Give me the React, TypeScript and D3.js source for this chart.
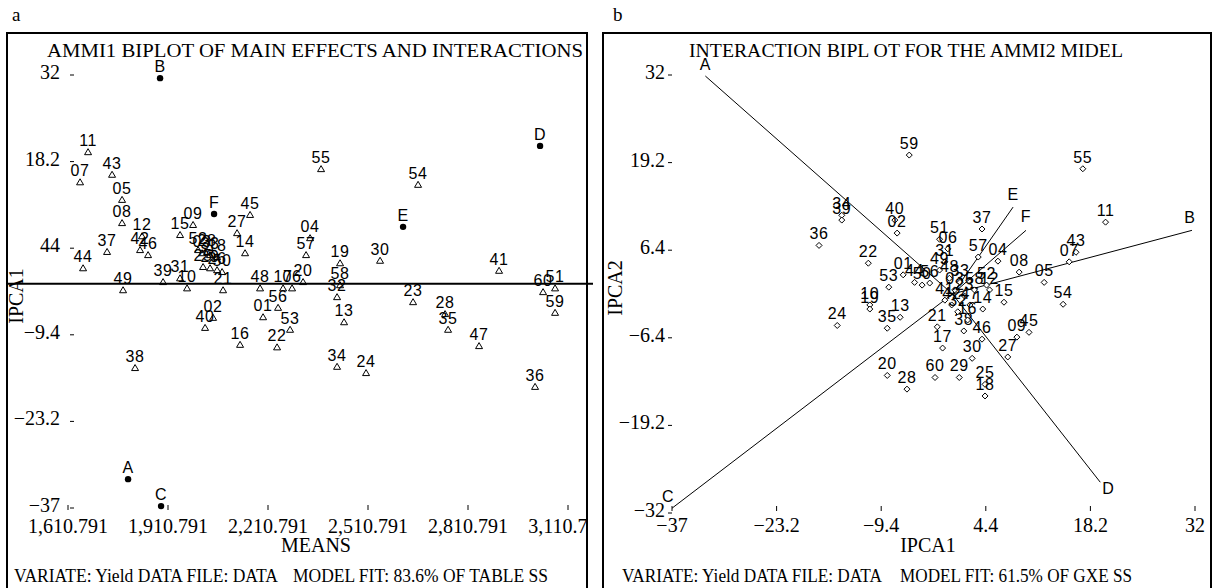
import React from 'react'
import * as d3 from 'd3'

// panel a: genotype means vs IPCA1
const genoA = ['11','07','43','05','08','12','42','46','37','44','49','38','15','09','52','28','03','33','18','25','29','26','50','39','31','10','21','27','45','14','48','17','06','20','04','57','01','56','53','22','16','40','02','55','54','19','30','41','58','32','13','23','28','35','47','34','24','36','60','51','59']
const genoAMean = [1671,1647,1743,1773,1773,1833,1827,1851,1728,1656,1776,1812,1947,1986,2001,2028,2013,2037,2058,2016,2037,2058,2073,1896,1947,1968,2076,2118,2157,2142,2187,2256,2283,2316,2337,2325,2196,2241,2277,2238,2127,2022,2046,2370,2661,2427,2547,2904,2427,2418,2439,2646,2742,2751,2844,2418,2505,3012,3036,3072,3072]
const genoAIpca1 = [19.7,14.9,16.1,12.1,8.4,6.3,4.1,3.3,3.8,1.2,-2.3,-14.7,6.5,8.1,4.1,3.8,3.6,3.3,3.0,1.4,1.2,0.9,0.6,-1.0,-0.4,-2.0,-2.3,6.8,9.7,3.6,-2.0,-2.0,-2.0,-1.0,6.0,3.3,-6.6,-5.1,-8.6,-11.4,-11.0,-8.3,-6.7,17.0,14.5,2.0,2.4,0.8,-1.5,-3.4,-7.4,-4.2,-6.1,-8.6,-11.2,-14.5,-15.5,-17.7,-2.6,-2.0,-5.9]

const envNames = ['A','B','C','D','E','F']
const envMean = [1791,1887,1890,3027,2616,2049]
const envIpca1A = [-32.4,31.5,-36.7,20.7,7.8,9.85]

const xTicksA = [1610.791, 1910.791, 2210.791, 2510.791, 2810.791, 3110.791]
const yTicksA = [32, 18.2, 4.4, -9.4, -23.2, -37]
const yTickLabelsA = ['32', '18.2', '44', '\u22129.4', '\u221223.2', '\u221237']
const zeroLineA = -1.25

// panel b: IPCA1 vs IPCA2
const genoB = ['59','55','11','43','07','05','08','04','54','09','45','27','15','12','34','39','36','40','02','22','53','10','19','13','35','24','51','06','37','57','52','14','17','21','46','38','30','20','28','60','29','25','18','01','44','50','56','31','49','48','03','33','41','42','23','32','47','58','16']
const genoBIpca1 = [-5.7,17.2,20.2,16.3,15.4,12.1,8.8,6.0,14.6,8.5,10.1,7.3,6.8,4.9,-14.6,-14.6,-17.6,-7.6,-7.3,-11.1,-8.4,-10.9,-10.9,-6.9,-8.6,-15.2,-1.7,-0.6,3.9,3.4,4.5,4.0,-1.3,-2.0,3.9,1.5,2.6,-8.6,-6.0,-2.3,0.9,4.3,4.3,-6.5,-5.0,-4.0,-3.0,-1.0,-1.7,-0.4,0.3,1.0,-1.0,-0.1,1.6,0.7,2.3,2.9,2.0]
const genoBIpca2 = [20.3,18.3,10.5,6.1,4.7,1.7,3.2,4.8,-1.5,-6.3,-5.6,-9.2,-1.2,0.6,11.5,10.8,7.1,10.8,8.9,4.5,1.0,-1.6,-2.2,-3.4,-5.0,-4.6,8.0,6.6,9.5,5.4,1.3,-2.2,-7.9,-4.8,-6.6,-5.4,-9.4,-11.9,-13.9,-12.2,-12.2,-13.2,-14.9,2.8,1.7,1.3,1.6,4.7,3.5,2.3,0.6,1.7,-0.9,-1.6,-0.3,-2.6,-1.6,0.6,-3.8]

const envIpca1B = [-32.6,31.6,-37,19.5,8.0,9.7]
const envIpca2B = [31.85,9.3,-31.3,-27.5,12.7,9.3]

const xTicksB = [-37, -23.2, -9.4, 4.4, 18.2, 32]
const xTickLabelsB = ['\u221237', '\u221223.2', '\u22129.4', '4.4', '18.2', '32']
const yTicksB = [32, 19.2, 6.4, -6.4, -19.2, -32]
const yTickLabelsB = ['32', '19.2', '6.4', '\u22126.4', '\u221219.2', '\u221232']

const serif = '"Liberation Serif", "Times New Roman", serif'
const sans = '"Liberation Sans", Arial, sans-serif'

const tri = 'M0,-3.5L3.5,2.5L-3.5,2.5Z'
const diamond = 'M0,-3L3,0L0,3L-3,0Z'

// label offsets for env vectors in panel b
const envLabelOffB = [[0, -11], [-2, -12], [-4, -11], [8, 7], [0, -12], [0, -13]]

export default function App() {
  const xA = d3.scaleLinear().domain([1610.791, 3110.791]).range([68, 568])
  const yA = d3.scaleLinear().domain([32, -37]).range([75, 508])
  const xB = d3.scaleLinear().domain([-37, 32]).range([672, 1195])
  const yB = d3.scaleLinear().domain([32, -32]).range([75, 513])
  const fmt = d3.format(',.3f')

  const ptLabel = { fontFamily: sans, fontSize: 16, letterSpacing: 0.6 } as const

  return (
    <svg width={1215} height={588} style={{ position: 'absolute', left: 0, top: 0, background: '#fff' }}>
      <defs>
        <clipPath id="clipA"><rect x={8} y={34} width={578} height={560} /></clipPath>
      </defs>
      <rect width={1215} height={588} fill="#fff" />

      {/* ---------- panel a ---------- */}
      <text x={12} y={21} fontFamily={serif} fontSize={19}>a</text>
      <rect x={7} y={33} width={580} height={600} fill="none" stroke="#000" strokeWidth={2} />
      <text x={47} y={57} fontFamily={serif} fontSize={19} textLength={536} lengthAdjust="spacingAndGlyphs">
        AMMI1 BIPLOT OF MAIN EFFECTS AND INTERACTIONS
      </text>
      {yTicksA.map((t, i) => (
        <g key={'ya' + i}>
          <text x={60} y={yA(t) + 4} textAnchor="end" fontFamily={serif} fontSize={20}>{yTickLabelsA[i]}</text>
          <line x1={70} x2={74} y1={yA(t)} y2={yA(t)} stroke="#000" />
        </g>
      ))}
      <g clipPath="url(#clipA)">
        {xTicksA.map((t, i) => (
          <g key={'xa' + i}>
            <line x1={xA(t)} x2={xA(t)} y1={505} y2={510} stroke="#000" />
            <text x={xA(t)} y={533} textAnchor="middle" fontFamily={serif} fontSize={20}>{fmt(t)}</text>
          </g>
        ))}
      </g>
      <text x={316} y={552} textAnchor="middle" fontFamily={serif} fontSize={20}>MEANS</text>
      <text transform={`translate(23,296) rotate(-90)`} textAnchor="middle" fontFamily={serif} fontSize={20}>IPCA1</text>
      <text x={14} y={582} fontFamily={serif} fontSize={19} textLength={264} lengthAdjust="spacingAndGlyphs">VARIATE: Yield DATA FILE: DATA</text>
      <text x={293} y={582} fontFamily={serif} fontSize={19} textLength={255} lengthAdjust="spacingAndGlyphs">MODEL FIT: 83.6%  OF TABLE SS</text>

      <line x1={7} x2={593} y1={yA(zeroLineA)} y2={yA(zeroLineA)} stroke="#000" strokeWidth={2} />

      {genoA.map((g, i) => {
        const x = xA(genoAMean[i]), y = yA(genoAIpca1[i])
        return (
          <g key={'ga' + i}>
            <path d={tri} transform={`translate(${x},${y})`} fill="none" stroke="#000" strokeWidth={1} />
            <text x={x} y={y - 6} textAnchor="middle" {...ptLabel}>{g}</text>
          </g>
        )
      })}
      {envNames.map((e, i) => {
        const x = xA(envMean[i]), y = yA(envIpca1A[i])
        return (
          <g key={'ea' + i}>
            <circle cx={x} cy={y} r={3.2} fill="#000" />
            <text x={x} y={y - 6} textAnchor="middle" {...ptLabel}>{e}</text>
          </g>
        )
      })}

      {/* ---------- panel b ---------- */}
      <text x={613} y={21} fontFamily={serif} fontSize={19}>b</text>
      <rect x={603} y={33} width={608} height={600} fill="none" stroke="#000" strokeWidth={2} />
      <text x={689} y={57} fontFamily={serif} fontSize={19} textLength={434} lengthAdjust="spacingAndGlyphs">
        INTERACTION BIPL OT FOR THE AMMI2 MIDEL
      </text>
      {yTicksB.map((t, i) => (
        <g key={'yb' + i}>
          <text x={665} y={yB(t) + 4} textAnchor="end" fontFamily={serif} fontSize={20}>{yTickLabelsB[i]}</text>
          <line x1={668} x2={672} y1={yB(t)} y2={yB(t)} stroke="#000" />
        </g>
      ))}
      {xTicksB.map((t, i) => (
        <g key={'xb' + i}>
          <line x1={xB(t)} x2={xB(t)} y1={506} y2={511} stroke="#000" />
          <text x={xB(t)} y={532} textAnchor="middle" fontFamily={serif} fontSize={20}>{xTickLabelsB[i]}</text>
        </g>
      ))}
      <text x={928} y={552} textAnchor="middle" fontFamily={serif} fontSize={20}>IPCA1</text>
      <text transform={`translate(622,288) rotate(-90)`} textAnchor="middle" fontFamily={serif} fontSize={20}>IPCA2</text>
      <text x={622} y={582} fontFamily={serif} fontSize={19} textLength={260} lengthAdjust="spacingAndGlyphs">VARIATE: Yield DATA FILE: DATA</text>
      <text x={900} y={582} fontFamily={serif} fontSize={19} textLength={232} lengthAdjust="spacingAndGlyphs">MODEL FIT: 61.5%  OF GXE SS</text>

      {envNames.map((e, i) => {
        const x = xB(envIpca1B[i]), y = yB(envIpca2B[i])
        return (
          <g key={'eb' + i}>
            <line x1={xB(0)} y1={yB(0)} x2={x} y2={y} stroke="#000" strokeWidth={1} />
            <text x={x + envLabelOffB[i][0]} y={y + envLabelOffB[i][1] + 5} textAnchor="middle" {...ptLabel}>{e}</text>
          </g>
        )
      })}
      {genoB.map((g, i) => {
        const x = xB(genoBIpca1[i]), y = yB(genoBIpca2[i])
        return (
          <g key={'gb' + i}>
            <path d={diamond} transform={`translate(${x},${y})`} fill="#fff" stroke="#000" strokeWidth={1} />
            <text x={x} y={y - 6} textAnchor="middle" {...ptLabel}>{g}</text>
          </g>
        )
      })}
    </svg>
  )
}
